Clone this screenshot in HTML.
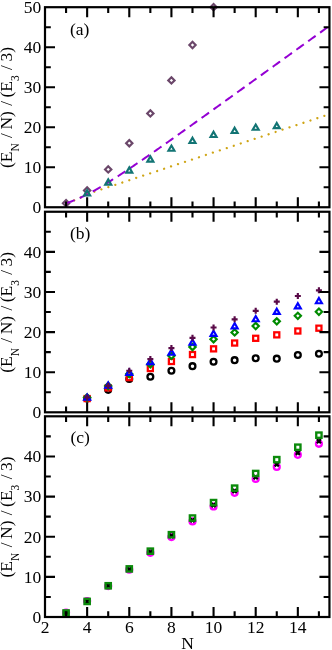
<!DOCTYPE html>
<html><head><meta charset="utf-8"><style>
html,body{margin:0;padding:0;background:#fff;}
svg{display:block;will-change:transform;transform:translateZ(0)}
.t{font-family:"Liberation Serif",serif;font-size:17.5px;fill:#000}
</style></head><body>
<svg width="332" height="650" viewBox="0 0 332 650">
<rect width="332" height="650" fill="#fff"/>
<path d="M66.07 200.10L69.22 203.25L66.07 206.40L62.92 203.25Z" fill="none" stroke="#6B476A" stroke-width="2.15"/>
<path d="M87.14 187.30L90.29 190.45L87.14 193.60L83.99 190.45Z" fill="none" stroke="#6B476A" stroke-width="2.15"/>
<path d="M108.21 166.29L111.36 169.44L108.21 172.59L105.06 169.44Z" fill="none" stroke="#6B476A" stroke-width="2.15"/>
<path d="M129.28 140.08L132.43 143.23L129.28 146.38L126.13 143.23Z" fill="none" stroke="#6B476A" stroke-width="2.15"/>
<path d="M150.35 110.28L153.50 113.43L150.35 116.58L147.20 113.43Z" fill="none" stroke="#6B476A" stroke-width="2.15"/>
<path d="M171.42 77.27L174.57 80.42L171.42 83.57L168.27 80.42Z" fill="none" stroke="#6B476A" stroke-width="2.15"/>
<path d="M192.49 41.86L195.64 45.01L192.49 48.16L189.34 45.01Z" fill="none" stroke="#6B476A" stroke-width="2.15"/>
<path d="M213.56 4.05L216.71 7.20L213.56 10.35L210.41 7.20Z" fill="none" stroke="#6B476A" stroke-width="2.15"/>
<path d="M66.07 203.25L67.39 202.83L68.72 202.39L70.04 201.93L71.36 201.45L72.69 200.94L74.01 200.42L75.33 199.88L76.66 199.32L77.98 198.75L79.30 198.16L80.63 197.55L81.95 196.91L83.28 196.21L84.60 195.50L85.92 194.83L87.25 194.21L88.57 193.65L89.89 193.17L91.22 192.75L92.54 192.35L93.86 191.92L95.19 191.49L96.51 191.05L97.83 190.61L99.16 190.18L100.48 189.74L101.80 189.30L103.13 188.87L104.45 188.43L105.77 187.99L107.10 187.56L108.42 187.12L109.75 186.68L111.07 186.25L112.39 185.81L113.72 185.38L115.04 184.94L116.36 184.50L117.69 184.07L119.01 183.63L120.33 183.19L121.66 182.76L122.98 182.32L124.30 181.88L125.63 181.45L126.95 181.01L128.27 180.57L129.60 180.14L130.92 179.70L132.24 179.26L133.57 178.83L134.89 178.39L136.22 177.95L137.54 177.52L138.86 177.08L140.19 176.64L141.51 176.21L142.83 175.77L144.16 175.33L145.48 174.90L146.80 174.46L148.13 174.03L149.45 173.59L150.77 173.15L152.10 172.72L153.42 172.28L154.74 171.84L156.07 171.41L157.39 170.97L158.71 170.53L160.04 170.10L161.36 169.66L162.68 169.22L164.01 168.79L165.33 168.35L166.66 167.91L167.98 167.48L169.30 167.04L170.63 166.60L171.95 166.17L173.27 165.73L174.60 165.29L175.92 164.86L177.24 164.42L178.57 163.98L179.89 163.55L181.21 163.11L182.54 162.68L183.86 162.24L185.18 161.80L186.51 161.37L187.83 160.93L189.15 160.49L190.48 160.06L191.80 159.62L193.13 159.18L194.45 158.75L195.77 158.31L197.10 157.87L198.42 157.44L199.74 157.00L201.07 156.56L202.39 156.13L203.71 155.69L205.04 155.25L206.36 154.82L207.68 154.38L209.01 153.94L210.33 153.51L211.65 153.07L212.98 152.63L214.30 152.20L215.62 151.76L216.95 151.33L218.27 150.89L219.60 150.45L220.92 150.02L222.24 149.58L223.57 149.14L224.89 148.71L226.21 148.27L227.54 147.83L228.86 147.40L230.18 146.96L231.51 146.52L232.83 146.09L234.15 145.65L235.48 145.21L236.80 144.78L238.12 144.34L239.45 143.90L240.77 143.47L242.09 143.03L243.42 142.59L244.74 142.16L246.06 141.72L247.39 141.28L248.71 140.85L250.04 140.41L251.36 139.98L252.68 139.54L254.01 139.10L255.33 138.67L256.65 138.23L257.98 137.79L259.30 137.36L260.62 136.92L261.95 136.48L263.27 136.05L264.59 135.61L265.92 135.17L267.24 134.74L268.56 134.30L269.89 133.86L271.21 133.43L272.53 132.99L273.86 132.55L275.18 132.12L276.51 131.68L277.83 131.24L279.15 130.81L280.48 130.37L281.80 129.93L283.12 129.50L284.45 129.06L285.77 128.62L287.09 128.19L288.42 127.75L289.74 127.32L291.06 126.88L292.39 126.44L293.71 126.01L295.03 125.57L296.36 125.13L297.68 124.70L299.00 124.26L300.33 123.82L301.65 123.39L302.98 122.95L304.30 122.51L305.62 122.08L306.95 121.64L308.27 121.20L309.59 120.77L310.92 120.33L312.24 119.89L313.56 119.46L314.89 119.02L316.21 118.58L317.53 118.15L318.86 117.71L320.18 117.27L321.50 116.84L322.83 116.40L324.15 115.97L325.47 115.53L326.80 115.09L328.12 114.66L329.44 114.22" fill="none" stroke="#CFA516" stroke-width="2.3" stroke-linecap="round" stroke-dasharray="0.01 7.327" stroke-dashoffset="-1.3"/>
<path d="M66.07 203.25L67.39 202.83L68.72 202.39L70.04 201.93L71.36 201.45L72.69 200.94L74.01 200.42L75.33 199.88L76.66 199.32L77.98 198.75L79.30 198.16L80.63 197.55L81.95 196.93L83.28 196.30L84.60 195.65L85.92 194.98L87.25 194.31L88.57 193.62L89.89 192.93L91.22 192.22L92.54 191.50L93.86 190.77L95.19 190.03L96.51 189.28L97.83 188.53L99.16 187.76L100.48 186.99L101.80 186.21L103.13 185.42L104.45 184.63L105.77 183.82L107.10 183.02L108.42 182.20L109.75 181.38L111.07 180.55L112.39 179.72L113.72 178.89L115.04 178.04L116.36 177.20L117.69 176.35L119.01 175.49L120.33 174.63L121.66 173.77L122.98 172.90L124.30 172.03L125.63 171.15L126.95 170.27L128.27 169.39L129.60 168.51L130.92 167.62L132.24 166.73L133.57 165.83L134.89 164.94L136.22 164.04L137.54 163.14L138.86 162.24L140.19 161.33L141.51 160.42L142.83 159.51L144.16 158.60L145.48 157.69L146.80 156.77L148.13 155.86L149.45 154.94L150.77 154.02L152.10 153.10L153.42 152.17L154.74 151.25L156.07 150.32L157.39 149.40L158.71 148.47L160.04 147.54L161.36 146.61L162.68 145.68L164.01 144.75L165.33 143.81L166.66 142.88L167.98 141.94L169.30 141.01L170.63 140.07L171.95 139.13L173.27 138.20L174.60 137.26L175.92 136.32L177.24 135.38L178.57 134.44L179.89 133.50L181.21 132.55L182.54 131.61L183.86 130.67L185.18 129.72L186.51 128.78L187.83 127.84L189.15 126.89L190.48 125.94L191.80 125.00L193.13 124.05L194.45 123.11L195.77 122.16L197.10 121.21L198.42 120.26L199.74 119.32L201.07 118.37L202.39 117.42L203.71 116.47L205.04 115.52L206.36 114.57L207.68 113.62L209.01 112.67L210.33 111.72L211.65 110.77L212.98 109.82L214.30 108.87L215.62 107.92L216.95 106.97L218.27 106.02L219.60 105.07L220.92 104.12L222.24 103.16L223.57 102.21L224.89 101.26L226.21 100.31L227.54 99.36L228.86 98.40L230.18 97.45L231.51 96.50L232.83 95.55L234.15 94.59L235.48 93.64L236.80 92.69L238.12 91.74L239.45 90.78L240.77 89.83L242.09 88.88L243.42 87.92L244.74 86.97L246.06 86.02L247.39 85.06L248.71 84.11L250.04 83.15L251.36 82.20L252.68 81.25L254.01 80.29L255.33 79.34L256.65 78.39L257.98 77.43L259.30 76.48L260.62 75.52L261.95 74.57L263.27 73.62L264.59 72.66L265.92 71.71L267.24 70.75L268.56 69.80L269.89 68.84L271.21 67.89L272.53 66.94L273.86 65.98L275.18 65.03L276.51 64.07L277.83 63.12L279.15 62.16L280.48 61.21L281.80 60.25L283.12 59.30L284.45 58.35L285.77 57.39L287.09 56.44L288.42 55.48L289.74 54.53L291.06 53.57L292.39 52.62L293.71 51.66L295.03 50.71L296.36 49.75L297.68 48.80L299.00 47.84L300.33 46.89L301.65 45.93L302.98 44.98L304.30 44.02L305.62 43.07L306.95 42.12L308.27 41.16L309.59 40.21L310.92 39.25L312.24 38.30L313.56 37.34L314.89 36.39L316.21 35.43L317.53 34.48L318.86 33.52L320.18 32.57L321.50 31.61L322.83 30.66L324.15 29.70L325.47 28.75L326.80 27.79L328.12 26.84L329.44 25.88" fill="none" stroke="#9400D3" stroke-width="2" stroke-dasharray="9.15 5.45"/>
<path d="M87.14 190.26L90.14 195.46L84.14 195.46Z" fill="none" stroke="#127474" stroke-width="2.15"/>
<path d="M108.21 179.38L111.21 184.58L105.21 184.58Z" fill="none" stroke="#127474" stroke-width="2.15"/>
<path d="M129.28 167.38L132.28 172.57L126.28 172.57Z" fill="none" stroke="#127474" stroke-width="2.15"/>
<path d="M150.35 156.37L153.35 161.57L147.35 161.57Z" fill="none" stroke="#127474" stroke-width="2.15"/>
<path d="M171.42 145.53L174.42 150.73L168.42 150.73Z" fill="none" stroke="#127474" stroke-width="2.15"/>
<path d="M192.49 137.77L195.49 142.97L189.49 142.97Z" fill="none" stroke="#127474" stroke-width="2.15"/>
<path d="M213.56 131.77L216.56 136.96L210.56 136.96Z" fill="none" stroke="#127474" stroke-width="2.15"/>
<path d="M234.63 127.77L237.63 132.96L231.63 132.96Z" fill="none" stroke="#127474" stroke-width="2.15"/>
<path d="M255.70 124.57L258.70 129.76L252.70 129.76Z" fill="none" stroke="#127474" stroke-width="2.15"/>
<path d="M276.77 122.97L279.77 128.16L273.77 128.16Z" fill="none" stroke="#127474" stroke-width="2.15"/>
<circle cx="87.14" cy="398.46" r="2.90" fill="none" stroke="#000" stroke-width="2.3"/>
<circle cx="108.21" cy="389.84" r="2.90" fill="none" stroke="#000" stroke-width="2.3"/>
<circle cx="129.28" cy="379.01" r="2.90" fill="none" stroke="#000" stroke-width="2.3"/>
<circle cx="150.35" cy="376.72" r="2.90" fill="none" stroke="#000" stroke-width="2.3"/>
<circle cx="171.42" cy="370.79" r="2.90" fill="none" stroke="#000" stroke-width="2.3"/>
<circle cx="192.49" cy="366.17" r="2.90" fill="none" stroke="#000" stroke-width="2.3"/>
<circle cx="213.56" cy="361.76" r="2.90" fill="none" stroke="#000" stroke-width="2.3"/>
<circle cx="234.63" cy="360.16" r="2.90" fill="none" stroke="#000" stroke-width="2.3"/>
<circle cx="255.70" cy="358.27" r="2.90" fill="none" stroke="#000" stroke-width="2.3"/>
<circle cx="276.77" cy="358.67" r="2.90" fill="none" stroke="#000" stroke-width="2.3"/>
<circle cx="297.84" cy="354.98" r="2.90" fill="none" stroke="#000" stroke-width="2.3"/>
<circle cx="318.91" cy="353.70" r="2.90" fill="none" stroke="#000" stroke-width="2.3"/>
<rect x="84.59" y="396.03" width="5.10" height="5.10" fill="none" stroke="#FF0000" stroke-width="2.25"/>
<rect x="105.66" y="385.32" width="5.10" height="5.10" fill="none" stroke="#FF0000" stroke-width="2.25"/>
<rect x="126.73" y="375.09" width="5.10" height="5.10" fill="none" stroke="#FF0000" stroke-width="2.25"/>
<rect x="147.80" y="365.99" width="5.10" height="5.10" fill="none" stroke="#FF0000" stroke-width="2.25"/>
<rect x="168.87" y="358.93" width="5.10" height="5.10" fill="none" stroke="#FF0000" stroke-width="2.25"/>
<rect x="189.94" y="351.99" width="5.10" height="5.10" fill="none" stroke="#FF0000" stroke-width="2.25"/>
<rect x="211.01" y="346.30" width="5.10" height="5.10" fill="none" stroke="#FF0000" stroke-width="2.25"/>
<rect x="232.08" y="340.48" width="5.10" height="5.10" fill="none" stroke="#FF0000" stroke-width="2.25"/>
<rect x="253.15" y="335.75" width="5.10" height="5.10" fill="none" stroke="#FF0000" stroke-width="2.25"/>
<rect x="274.22" y="332.30" width="5.10" height="5.10" fill="none" stroke="#FF0000" stroke-width="2.25"/>
<rect x="295.29" y="328.45" width="5.10" height="5.10" fill="none" stroke="#FF0000" stroke-width="2.25"/>
<rect x="316.36" y="325.64" width="5.10" height="5.10" fill="none" stroke="#FF0000" stroke-width="2.25"/>
<path d="M87.14 394.39L90.29 397.54L87.14 400.69L83.99 397.54Z" fill="none" stroke="#008B00" stroke-width="2.15"/>
<path d="M108.21 382.88L111.36 386.03L108.21 389.18L105.06 386.03Z" fill="none" stroke="#008B00" stroke-width="2.15"/>
<path d="M129.28 370.89L132.43 374.04L129.28 377.19L126.13 374.04Z" fill="none" stroke="#008B00" stroke-width="2.15"/>
<path d="M150.35 361.14L153.50 364.29L150.35 367.44L147.20 364.29Z" fill="none" stroke="#008B00" stroke-width="2.15"/>
<path d="M171.42 352.64L174.57 355.79L171.42 358.94L168.27 355.79Z" fill="none" stroke="#008B00" stroke-width="2.15"/>
<path d="M192.49 343.81L195.64 346.96L192.49 350.11L189.34 346.96Z" fill="none" stroke="#008B00" stroke-width="2.15"/>
<path d="M213.56 336.07L216.71 339.22L213.56 342.37L210.41 339.22Z" fill="none" stroke="#008B00" stroke-width="2.15"/>
<path d="M234.63 329.29L237.78 332.44L234.63 335.59L231.48 332.44Z" fill="none" stroke="#008B00" stroke-width="2.15"/>
<path d="M255.70 322.87L258.85 326.02L255.70 329.17L252.55 326.02Z" fill="none" stroke="#008B00" stroke-width="2.15"/>
<path d="M276.77 318.22L279.92 321.37L276.77 324.52L273.62 321.37Z" fill="none" stroke="#008B00" stroke-width="2.15"/>
<path d="M297.84 312.69L300.99 315.84L297.84 318.99L294.69 315.84Z" fill="none" stroke="#008B00" stroke-width="2.15"/>
<path d="M318.91 308.59L322.06 311.74L318.91 314.89L315.76 311.74Z" fill="none" stroke="#008B00" stroke-width="2.15"/>
<path d="M87.14 394.56L90.14 399.75L84.14 399.75Z" fill="none" stroke="#0000FF" stroke-width="2.15"/>
<path d="M108.21 382.48L111.21 387.68L105.21 387.68Z" fill="none" stroke="#0000FF" stroke-width="2.15"/>
<path d="M129.28 369.77L132.28 374.96L126.28 374.96Z" fill="none" stroke="#0000FF" stroke-width="2.15"/>
<path d="M150.35 358.86L153.35 364.05L147.35 364.05Z" fill="none" stroke="#0000FF" stroke-width="2.15"/>
<path d="M171.42 349.59L174.42 354.79L168.42 354.79Z" fill="none" stroke="#0000FF" stroke-width="2.15"/>
<path d="M192.49 339.57L195.49 344.76L189.49 344.76Z" fill="none" stroke="#0000FF" stroke-width="2.15"/>
<path d="M213.56 330.74L216.56 335.94L210.56 335.94Z" fill="none" stroke="#0000FF" stroke-width="2.15"/>
<path d="M234.63 323.12L237.63 328.32L231.63 328.32Z" fill="none" stroke="#0000FF" stroke-width="2.15"/>
<path d="M255.70 316.06L258.70 321.26L252.70 321.26Z" fill="none" stroke="#0000FF" stroke-width="2.15"/>
<path d="M276.77 308.68L279.77 313.88L273.77 313.88Z" fill="none" stroke="#0000FF" stroke-width="2.15"/>
<path d="M297.84 303.23L300.84 308.42L294.84 308.42Z" fill="none" stroke="#0000FF" stroke-width="2.15"/>
<path d="M318.91 298.01L321.91 303.21L315.91 303.21Z" fill="none" stroke="#0000FF" stroke-width="2.15"/>
<path d="M84.14 397.38H90.14M87.14 394.38V400.38" fill="none" stroke="#5A0A48" stroke-width="2.15"/>
<path d="M105.21 385.83H111.21M108.21 382.83V388.83" fill="none" stroke="#5A0A48" stroke-width="2.15"/>
<path d="M126.28 370.75H132.28M129.28 367.75V373.75" fill="none" stroke="#5A0A48" stroke-width="2.15"/>
<path d="M147.35 359.07H153.35M150.35 356.07V362.07" fill="none" stroke="#5A0A48" stroke-width="2.15"/>
<path d="M168.42 348.08H174.42M171.42 345.08V351.08" fill="none" stroke="#5A0A48" stroke-width="2.15"/>
<path d="M189.49 337.82H195.49M192.49 334.82V340.82" fill="none" stroke="#5A0A48" stroke-width="2.15"/>
<path d="M210.56 327.47H216.56M213.56 324.47V330.47" fill="none" stroke="#5A0A48" stroke-width="2.15"/>
<path d="M231.63 319.37H237.63M234.63 316.37V322.37" fill="none" stroke="#5A0A48" stroke-width="2.15"/>
<path d="M252.70 310.82H258.70M255.70 307.82V313.82" fill="none" stroke="#5A0A48" stroke-width="2.15"/>
<path d="M273.77 301.64H279.77M276.77 298.64V304.64" fill="none" stroke="#5A0A48" stroke-width="2.15"/>
<path d="M294.84 295.98H300.84M297.84 292.98V298.98" fill="none" stroke="#5A0A48" stroke-width="2.15"/>
<path d="M315.91 290.33H321.91M318.91 287.33V293.33" fill="none" stroke="#5A0A48" stroke-width="2.15"/>
<circle cx="66.07" cy="612.58" r="2.95" fill="none" stroke="#FF00FF" stroke-width="2.3"/>
<circle cx="87.14" cy="601.02" r="2.95" fill="none" stroke="#FF00FF" stroke-width="2.3"/>
<circle cx="108.21" cy="586.09" r="2.95" fill="none" stroke="#FF00FF" stroke-width="2.3"/>
<circle cx="129.28" cy="569.63" r="2.95" fill="none" stroke="#FF00FF" stroke-width="2.3"/>
<circle cx="150.35" cy="552.78" r="2.95" fill="none" stroke="#FF00FF" stroke-width="2.3"/>
<circle cx="171.42" cy="537.12" r="2.95" fill="none" stroke="#FF00FF" stroke-width="2.3"/>
<circle cx="192.49" cy="521.47" r="2.95" fill="none" stroke="#FF00FF" stroke-width="2.3"/>
<circle cx="213.56" cy="506.49" r="2.95" fill="none" stroke="#FF00FF" stroke-width="2.3"/>
<circle cx="234.63" cy="492.85" r="2.95" fill="none" stroke="#FF00FF" stroke-width="2.3"/>
<circle cx="255.70" cy="479.00" r="2.95" fill="none" stroke="#FF00FF" stroke-width="2.3"/>
<circle cx="276.77" cy="466.88" r="2.95" fill="none" stroke="#FF00FF" stroke-width="2.3"/>
<circle cx="297.84" cy="454.83" r="2.95" fill="none" stroke="#FF00FF" stroke-width="2.3"/>
<circle cx="318.91" cy="443.80" r="2.95" fill="none" stroke="#FF00FF" stroke-width="2.3"/>
<path d="M64.02 610.94L68.12 615.04M64.02 615.04L68.12 610.94" fill="none" stroke="#000" stroke-width="2.2"/>
<path d="M85.09 599.30L89.19 603.40M85.09 603.40L89.19 599.30" fill="none" stroke="#000" stroke-width="2.2"/>
<path d="M106.16 583.84L110.26 587.94M106.16 587.94L110.26 583.84" fill="none" stroke="#000" stroke-width="2.2"/>
<path d="M127.23 567.38L131.33 571.48M127.23 571.48L131.33 567.38" fill="none" stroke="#000" stroke-width="2.2"/>
<path d="M148.30 549.92L152.40 554.02M148.30 554.02L152.40 549.92" fill="none" stroke="#000" stroke-width="2.2"/>
<path d="M169.37 533.87L173.47 537.97M169.37 537.97L173.47 533.87" fill="none" stroke="#000" stroke-width="2.2"/>
<path d="M190.44 518.21L194.54 522.31M190.44 522.31L194.54 518.21" fill="none" stroke="#000" stroke-width="2.2"/>
<path d="M211.51 503.04L215.61 507.14M211.51 507.14L215.61 503.04" fill="none" stroke="#000" stroke-width="2.2"/>
<path d="M232.58 488.99L236.68 493.09M232.58 493.09L236.68 488.99" fill="none" stroke="#000" stroke-width="2.2"/>
<path d="M253.65 475.14L257.75 479.24M253.65 479.24L257.75 475.14" fill="none" stroke="#000" stroke-width="2.2"/>
<path d="M274.72 462.30L278.82 466.40M274.72 466.40L278.82 462.30" fill="none" stroke="#000" stroke-width="2.2"/>
<path d="M295.79 450.78L299.89 454.88M295.79 454.88L299.89 450.78" fill="none" stroke="#000" stroke-width="2.2"/>
<path d="M316.86 439.14L320.96 443.24M316.86 443.24L320.96 439.14" fill="none" stroke="#000" stroke-width="2.2"/>
<rect x="63.42" y="610.33" width="5.30" height="5.30" fill="none" stroke="#0B8A0B" stroke-width="2.35"/>
<rect x="84.49" y="598.77" width="5.30" height="5.30" fill="none" stroke="#0B8A0B" stroke-width="2.35"/>
<rect x="105.56" y="583.12" width="5.30" height="5.30" fill="none" stroke="#0B8A0B" stroke-width="2.35"/>
<rect x="126.63" y="566.26" width="5.30" height="5.30" fill="none" stroke="#0B8A0B" stroke-width="2.35"/>
<rect x="147.70" y="548.52" width="5.30" height="5.30" fill="none" stroke="#0B8A0B" stroke-width="2.35"/>
<rect x="168.77" y="532.06" width="5.30" height="5.30" fill="none" stroke="#0B8A0B" stroke-width="2.35"/>
<rect x="189.84" y="515.40" width="5.30" height="5.30" fill="none" stroke="#0B8A0B" stroke-width="2.35"/>
<rect x="210.91" y="499.95" width="5.30" height="5.30" fill="none" stroke="#0B8A0B" stroke-width="2.35"/>
<rect x="231.98" y="485.50" width="5.30" height="5.30" fill="none" stroke="#0B8A0B" stroke-width="2.35"/>
<rect x="253.05" y="470.85" width="5.30" height="5.30" fill="none" stroke="#0B8A0B" stroke-width="2.35"/>
<rect x="274.12" y="457.00" width="5.30" height="5.30" fill="none" stroke="#0B8A0B" stroke-width="2.35"/>
<rect x="295.19" y="444.56" width="5.30" height="5.30" fill="none" stroke="#0B8A0B" stroke-width="2.35"/>
<rect x="316.26" y="432.51" width="5.30" height="5.30" fill="none" stroke="#0B8A0B" stroke-width="2.35"/>
<rect x="45.0" y="7.2" width="284.44" height="200.05" fill="none" stroke="#000" stroke-width="2.2"/>
<path d="M66.07 207.25V201.45M66.07 7.2V13.0" stroke="#000" stroke-width="2.1"/>
<path d="M87.14 207.25V197.25M87.14 7.2V17.2" stroke="#000" stroke-width="2.1"/>
<path d="M108.21 207.25V201.45M108.21 7.2V13.0" stroke="#000" stroke-width="2.1"/>
<path d="M129.28 207.25V197.25M129.28 7.2V17.2" stroke="#000" stroke-width="2.1"/>
<path d="M150.35 207.25V201.45M150.35 7.2V13.0" stroke="#000" stroke-width="2.1"/>
<path d="M171.42 207.25V197.25M171.42 7.2V17.2" stroke="#000" stroke-width="2.1"/>
<path d="M192.49 207.25V201.45M192.49 7.2V13.0" stroke="#000" stroke-width="2.1"/>
<path d="M213.56 207.25V197.25M213.56 7.2V17.2" stroke="#000" stroke-width="2.1"/>
<path d="M234.63 207.25V201.45M234.63 7.2V13.0" stroke="#000" stroke-width="2.1"/>
<path d="M255.70 207.25V197.25M255.70 7.2V17.2" stroke="#000" stroke-width="2.1"/>
<path d="M276.77 207.25V201.45M276.77 7.2V13.0" stroke="#000" stroke-width="2.1"/>
<path d="M297.84 207.25V197.25M297.84 7.2V17.2" stroke="#000" stroke-width="2.1"/>
<path d="M318.91 207.25V201.45M318.91 7.2V13.0" stroke="#000" stroke-width="2.1"/>
<path d="M45.0 187.25H50.8M329.44 187.25H323.64" stroke="#000" stroke-width="2.1"/>
<path d="M45.0 167.24H55.0M329.44 167.24H319.44" stroke="#000" stroke-width="2.1"/>
<path d="M45.0 147.24H50.8M329.44 147.24H323.64" stroke="#000" stroke-width="2.1"/>
<path d="M45.0 127.23H55.0M329.44 127.23H319.44" stroke="#000" stroke-width="2.1"/>
<path d="M45.0 107.22H50.8M329.44 107.22H323.64" stroke="#000" stroke-width="2.1"/>
<path d="M45.0 87.22H55.0M329.44 87.22H319.44" stroke="#000" stroke-width="2.1"/>
<path d="M45.0 67.22H50.8M329.44 67.22H323.64" stroke="#000" stroke-width="2.1"/>
<path d="M45.0 47.21H55.0M329.44 47.21H319.44" stroke="#000" stroke-width="2.1"/>
<path d="M45.0 27.21H50.8M329.44 27.21H323.64" stroke="#000" stroke-width="2.1"/>
<text x="41.3" y="213.15" text-anchor="end" class="t">0</text>
<text x="41.3" y="173.14" text-anchor="end" class="t">10</text>
<text x="41.3" y="133.13" text-anchor="end" class="t">20</text>
<text x="41.3" y="93.12" text-anchor="end" class="t">30</text>
<text x="41.3" y="53.11" text-anchor="end" class="t">40</text>
<text x="41.3" y="13.10" text-anchor="end" class="t">50</text>
<text transform="translate(11.9 107.52) rotate(-90)" text-anchor="middle" class="t">(E<tspan dy="7.1" font-size="11.5">N</tspan><tspan dy="-7.1" dx="0.9"> /</tspan><tspan dx="-0.9"> N)</tspan><tspan dx="0.9"> /</tspan><tspan dx="-0.9"> (E</tspan><tspan dy="7.1" font-size="11.5">3</tspan><tspan dy="-7.1" dx="0.9"> /</tspan><tspan dx="-0.9"> 3)</tspan></text>
<text x="70" y="35.4" class="t">(a)</text>
<rect x="45.0" y="211.75" width="284.44" height="200.55" fill="none" stroke="#000" stroke-width="2.2"/>
<path d="M66.07 412.3V406.5M66.07 211.75V217.55" stroke="#000" stroke-width="2.1"/>
<path d="M87.14 412.3V402.3M87.14 211.75V221.75" stroke="#000" stroke-width="2.1"/>
<path d="M108.21 412.3V406.5M108.21 211.75V217.55" stroke="#000" stroke-width="2.1"/>
<path d="M129.28 412.3V402.3M129.28 211.75V221.75" stroke="#000" stroke-width="2.1"/>
<path d="M150.35 412.3V406.5M150.35 211.75V217.55" stroke="#000" stroke-width="2.1"/>
<path d="M171.42 412.3V402.3M171.42 211.75V221.75" stroke="#000" stroke-width="2.1"/>
<path d="M192.49 412.3V406.5M192.49 211.75V217.55" stroke="#000" stroke-width="2.1"/>
<path d="M213.56 412.3V402.3M213.56 211.75V221.75" stroke="#000" stroke-width="2.1"/>
<path d="M234.63 412.3V406.5M234.63 211.75V217.55" stroke="#000" stroke-width="2.1"/>
<path d="M255.70 412.3V402.3M255.70 211.75V221.75" stroke="#000" stroke-width="2.1"/>
<path d="M276.77 412.3V406.5M276.77 211.75V217.55" stroke="#000" stroke-width="2.1"/>
<path d="M297.84 412.3V402.3M297.84 211.75V221.75" stroke="#000" stroke-width="2.1"/>
<path d="M318.91 412.3V406.5M318.91 211.75V217.55" stroke="#000" stroke-width="2.1"/>
<path d="M45.0 392.25H50.8M329.44 392.25H323.64" stroke="#000" stroke-width="2.1"/>
<path d="M45.0 372.19H55.0M329.44 372.19H319.44" stroke="#000" stroke-width="2.1"/>
<path d="M45.0 352.13H50.8M329.44 352.13H323.64" stroke="#000" stroke-width="2.1"/>
<path d="M45.0 332.08H55.0M329.44 332.08H319.44" stroke="#000" stroke-width="2.1"/>
<path d="M45.0 312.02H50.8M329.44 312.02H323.64" stroke="#000" stroke-width="2.1"/>
<path d="M45.0 291.97H55.0M329.44 291.97H319.44" stroke="#000" stroke-width="2.1"/>
<path d="M45.0 271.92H50.8M329.44 271.92H323.64" stroke="#000" stroke-width="2.1"/>
<path d="M45.0 251.86H55.0M329.44 251.86H319.44" stroke="#000" stroke-width="2.1"/>
<path d="M45.0 231.81H50.8M329.44 231.81H323.64" stroke="#000" stroke-width="2.1"/>
<text x="41.3" y="418.20" text-anchor="end" class="t">0</text>
<text x="41.3" y="378.09" text-anchor="end" class="t">10</text>
<text x="41.3" y="337.98" text-anchor="end" class="t">20</text>
<text x="41.3" y="297.87" text-anchor="end" class="t">30</text>
<text x="41.3" y="257.76" text-anchor="end" class="t">40</text>
<text transform="translate(11.9 312.32) rotate(-90)" text-anchor="middle" class="t">(E<tspan dy="7.1" font-size="11.5">N</tspan><tspan dy="-7.1" dx="0.9"> /</tspan><tspan dx="-0.9"> N)</tspan><tspan dx="0.9"> /</tspan><tspan dx="-0.9"> (E</tspan><tspan dy="7.1" font-size="11.5">3</tspan><tspan dy="-7.1" dx="0.9"> /</tspan><tspan dx="-0.9"> 3)</tspan></text>
<text x="70" y="238.5" class="t">(b)</text>
<rect x="45.0" y="416.3" width="284.44" height="200.70" fill="none" stroke="#000" stroke-width="2.2"/>
<path d="M66.07 617.0V611.2M66.07 416.3V422.1" stroke="#000" stroke-width="2.1"/>
<path d="M87.14 617.0V607.0M87.14 416.3V426.3" stroke="#000" stroke-width="2.1"/>
<path d="M108.21 617.0V611.2M108.21 416.3V422.1" stroke="#000" stroke-width="2.1"/>
<path d="M129.28 617.0V607.0M129.28 416.3V426.3" stroke="#000" stroke-width="2.1"/>
<path d="M150.35 617.0V611.2M150.35 416.3V422.1" stroke="#000" stroke-width="2.1"/>
<path d="M171.42 617.0V607.0M171.42 416.3V426.3" stroke="#000" stroke-width="2.1"/>
<path d="M192.49 617.0V611.2M192.49 416.3V422.1" stroke="#000" stroke-width="2.1"/>
<path d="M213.56 617.0V607.0M213.56 416.3V426.3" stroke="#000" stroke-width="2.1"/>
<path d="M234.63 617.0V611.2M234.63 416.3V422.1" stroke="#000" stroke-width="2.1"/>
<path d="M255.70 617.0V607.0M255.70 416.3V426.3" stroke="#000" stroke-width="2.1"/>
<path d="M276.77 617.0V611.2M276.77 416.3V422.1" stroke="#000" stroke-width="2.1"/>
<path d="M297.84 617.0V607.0M297.84 416.3V426.3" stroke="#000" stroke-width="2.1"/>
<path d="M318.91 617.0V611.2M318.91 416.3V422.1" stroke="#000" stroke-width="2.1"/>
<path d="M45.0 596.93H50.8M329.44 596.93H323.64" stroke="#000" stroke-width="2.1"/>
<path d="M45.0 576.86H55.0M329.44 576.86H319.44" stroke="#000" stroke-width="2.1"/>
<path d="M45.0 556.79H50.8M329.44 556.79H323.64" stroke="#000" stroke-width="2.1"/>
<path d="M45.0 536.72H55.0M329.44 536.72H319.44" stroke="#000" stroke-width="2.1"/>
<path d="M45.0 516.65H50.8M329.44 516.65H323.64" stroke="#000" stroke-width="2.1"/>
<path d="M45.0 496.58H55.0M329.44 496.58H319.44" stroke="#000" stroke-width="2.1"/>
<path d="M45.0 476.51H50.8M329.44 476.51H323.64" stroke="#000" stroke-width="2.1"/>
<path d="M45.0 456.44H55.0M329.44 456.44H319.44" stroke="#000" stroke-width="2.1"/>
<path d="M45.0 436.37H50.8M329.44 436.37H323.64" stroke="#000" stroke-width="2.1"/>
<text x="41.3" y="622.90" text-anchor="end" class="t">0</text>
<text x="41.3" y="582.76" text-anchor="end" class="t">10</text>
<text x="41.3" y="542.62" text-anchor="end" class="t">20</text>
<text x="41.3" y="502.48" text-anchor="end" class="t">30</text>
<text x="41.3" y="462.34" text-anchor="end" class="t">40</text>
<text transform="translate(11.9 516.95) rotate(-90)" text-anchor="middle" class="t">(E<tspan dy="7.1" font-size="11.5">N</tspan><tspan dy="-7.1" dx="0.9"> /</tspan><tspan dx="-0.9"> N)</tspan><tspan dx="0.9"> /</tspan><tspan dx="-0.9"> (E</tspan><tspan dy="7.1" font-size="11.5">3</tspan><tspan dy="-7.1" dx="0.9"> /</tspan><tspan dx="-0.9"> 3)</tspan></text>
<text x="70.5" y="443.0" class="t">(c)</text>
<text x="45.00" y="632.8" text-anchor="middle" class="t">2</text>
<text x="87.14" y="632.8" text-anchor="middle" class="t">4</text>
<text x="129.28" y="632.8" text-anchor="middle" class="t">6</text>
<text x="171.42" y="632.8" text-anchor="middle" class="t">8</text>
<text x="213.56" y="632.8" text-anchor="middle" class="t">10</text>
<text x="255.70" y="632.8" text-anchor="middle" class="t">12</text>
<text x="297.84" y="632.8" text-anchor="middle" class="t">14</text>
<text x="187.6" y="648.6" text-anchor="middle" class="t">N</text>
</svg>
</body></html>
